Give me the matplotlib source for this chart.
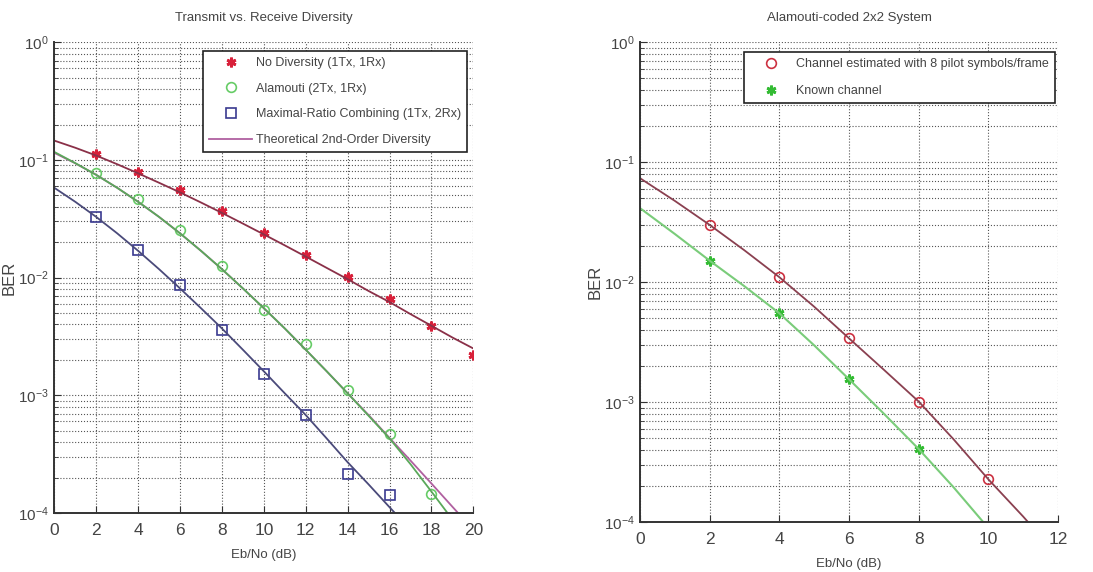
import matplotlib
matplotlib.use("Agg")
import matplotlib.pyplot as plt
from matplotlib.ticker import LogLocator, FixedLocator, NullFormatter

plt.rcParams['font.family'] = ['Liberation Sans', 'DejaVu Sans']

# ---- left panel: transmit vs receive diversity ----
ebno_sim = [2, 4, 6, 8, 10, 12, 14, 16, 18, 20]
ber_nodiv = [0.112, 0.0785, 0.0553, 0.0372, 0.0240, 0.0155, 0.0101, 0.00664, 0.00389, 0.0022]
ber_alamouti = [0.0776, 0.047, 0.0252, 0.01254, 0.0053, 0.00272, 0.00111, 0.00047, 0.000146]
ber_mrc = [0.0329, 0.0171, 0.00865, 0.0036, 0.00153, 0.000685, 0.000215, 0.000143]

ebno_fit = list(range(0, 21))
fit_nodiv = [0.146, 0.127, 0.109, 0.092, 0.077, 0.064, 0.053, 0.0435, 0.0355, 0.0288, 0.0233,
             0.0188, 0.0151, 0.0121, 0.0097, 0.0077, 0.0062, 0.0049, 0.0039, 0.0031, 0.0025]
fit_alamouti = [0.117, 0.094, 0.0747, 0.058, 0.0441, 0.0328, 0.0238, 0.0169, 0.0118, 0.0081,
                0.0055, 0.0037, 0.00244, 0.0016, 0.00104, 0.00067, 0.00043, 0.00026, 0.000152, 0.000088]
fit_mrc = [0.058, 0.0441, 0.0328, 0.0238, 0.0169, 0.0118, 0.0081, 0.0055, 0.0037, 0.00244, 0.0016,
           0.00104, 0.00068, 0.00043, 0.00027, 0.000175, 0.000112, 0.000072]
thy_2nd = [0.1149, 0.0937, 0.0747, 0.058, 0.0441, 0.0328, 0.0238, 0.0169, 0.0118, 0.0081,
           0.0055, 0.0037, 0.00244, 0.0016, 0.00104, 0.00068, 0.000434, 0.000279, 0.000178, 0.000113, 0.000072]

# ---- right panel: alamouti 2x2 ----
ebno_est = [2, 4, 6, 8, 10]
ber_est = [0.030, 0.0110, 0.0034, 0.00101, 0.000227]
ebno_known = [2, 4, 6, 8]
ber_known = [0.0151, 0.0055, 0.00155, 0.000406]

ebno_fit2 = [0, 1, 2, 3, 4, 5, 6, 7, 8, 9, 10, 11, 12]
fit_est = [0.0736, 0.0476, 0.030, 0.0184, 0.0110, 0.00624, 0.0034, 0.00186, 0.00101, 0.00049,
           0.000227, 0.000111, 0.000052]
fit_known = [0.0414, 0.0252, 0.0151, 0.00923, 0.0055, 0.00297, 0.00155, 0.0008, 0.000406,
             0.000195, 0.000089, 0.00004, 0.000018]

fig = plt.figure(figsize=(10.93, 5.72), dpi=100)
ax1 = fig.add_axes([0.0497, 0.1031, 0.3834, 0.823])
ax2 = fig.add_axes([0.5856, 0.0874, 0.3824, 0.8386])

TXT = '#444444'


def style_axes(ax, xmax, xstep):
    ax.set_yscale('log')
    ax.set_xlim(0, xmax)
    ax.set_ylim(1e-4, 1)
    ax.xaxis.set_major_locator(FixedLocator(list(range(0, xmax + 1, xstep))))
    ax.yaxis.set_major_locator(LogLocator(base=10))
    ax.yaxis.set_minor_locator(LogLocator(base=10, subs=range(2, 10)))
    ax.yaxis.set_minor_formatter(NullFormatter())
    ax.grid(True, which='major', linestyle=':', color='#555555', linewidth=0.8)
    ax.grid(True, which='minor', axis='y', linestyle=':', color='#555555', linewidth=0.8)
    for side in ('top', 'right'):
        ax.spines[side].set_visible(False)
    for side in ('left', 'bottom'):
        ax.spines[side].set_linewidth(1.4)
        ax.spines[side].set_color('#333333')
    ax.tick_params(which='both', direction='in', top=False, right=False, colors='#333333',
                   labelcolor=TXT)
    ax.tick_params(which='major', length=5)
    ax.tick_params(axis='x', pad=7, labelsize=12.5)
    ax.tick_params(axis='y', pad=4, labelsize=11)
    ax.tick_params(which='minor', length=3)
    ax.set_xlabel('Eb/No (dB)', fontsize=9.5, color=TXT, labelpad=8)
    ax.set_ylabel('BER', fontsize=12, color=TXT)
    ax.yaxis.set_label_coords(-0.089, 0.5)


def style_legend(leg):
    leg.get_frame().set_linewidth(1.2)
    for t in leg.get_texts():
        t.set_color(TXT)


style_axes(ax1, 20, 2)
ax1.plot(ebno_sim, ber_nodiv, linestyle='none', marker=(6, 2, 0), markersize=7, mew=2,
         color='#d8203a', label='No Diversity (1Tx, 1Rx)')
ax1.plot(ebno_sim[:9], ber_alamouti, linestyle='none', marker='o', markersize=7, mfc='none',
         mew=1.2, color='#66cc66', label='Alamouti (2Tx, 1Rx)')
ax1.plot(ebno_sim[:8], ber_mrc, linestyle='none', marker='s', markersize=7, mfc='none',
         mew=1.2, color='#3a3a90', label='Maximal-Ratio Combining (1Tx, 2Rx)')
ax1.plot(ebno_fit, thy_2nd, color='#b060a0', linewidth=1.3,
         label='Theoretical 2nd-Order Diversity')
ax1.plot(ebno_fit, fit_nodiv, color='#8a3048', linewidth=1.3)
ax1.plot(ebno_fit[:len(fit_alamouti)], fit_alamouti, color='#5aa85a', linewidth=1.3)
ax1.plot(ebno_fit[:len(fit_mrc)], fit_mrc, color='#4a4a7a', linewidth=1.3)
ax1.set_title('Transmit vs. Receive Diversity', fontsize=9.5, color=TXT, pad=15)
leg1 = ax1.legend(loc='upper right', bbox_to_anchor=(0.985, 0.982), fontsize=9, frameon=True,
                  fancybox=False, edgecolor='#222222', framealpha=1, borderpad=0.5,
                  borderaxespad=0, handlelength=3.4, handletextpad=0.3, labelspacing=1.1)
style_legend(leg1)

style_axes(ax2, 12, 2)
ax2.plot(ebno_est, ber_est, linestyle='none', marker='o', markersize=7, mfc='none', mew=1.2,
         color='#cc3040', label='Channel estimated with 8 pilot symbols/frame')
ax2.plot(ebno_known, ber_known, linestyle='none', marker=(6, 2, 0), markersize=7, mew=2,
         color='#33bb33', label='Known channel')
ax2.plot(ebno_fit2, fit_est, color='#8a4050', linewidth=1.3)
ax2.plot(ebno_fit2, fit_known, color='#7acc7a', linewidth=1.5)
ax2.set_title('Alamouti-coded 2x2 System', fontsize=9.5, color=TXT, pad=15)
leg2 = ax2.legend(loc='upper right', bbox_to_anchor=(0.993, 0.98), fontsize=9, frameon=True,
                  fancybox=False, edgecolor='#222222', framealpha=1, borderpad=0.5,
                  borderaxespad=0, handlelength=3.4, handletextpad=0.3, labelspacing=1.2)
style_legend(leg2)

fig.savefig('out.png', dpi=100)
